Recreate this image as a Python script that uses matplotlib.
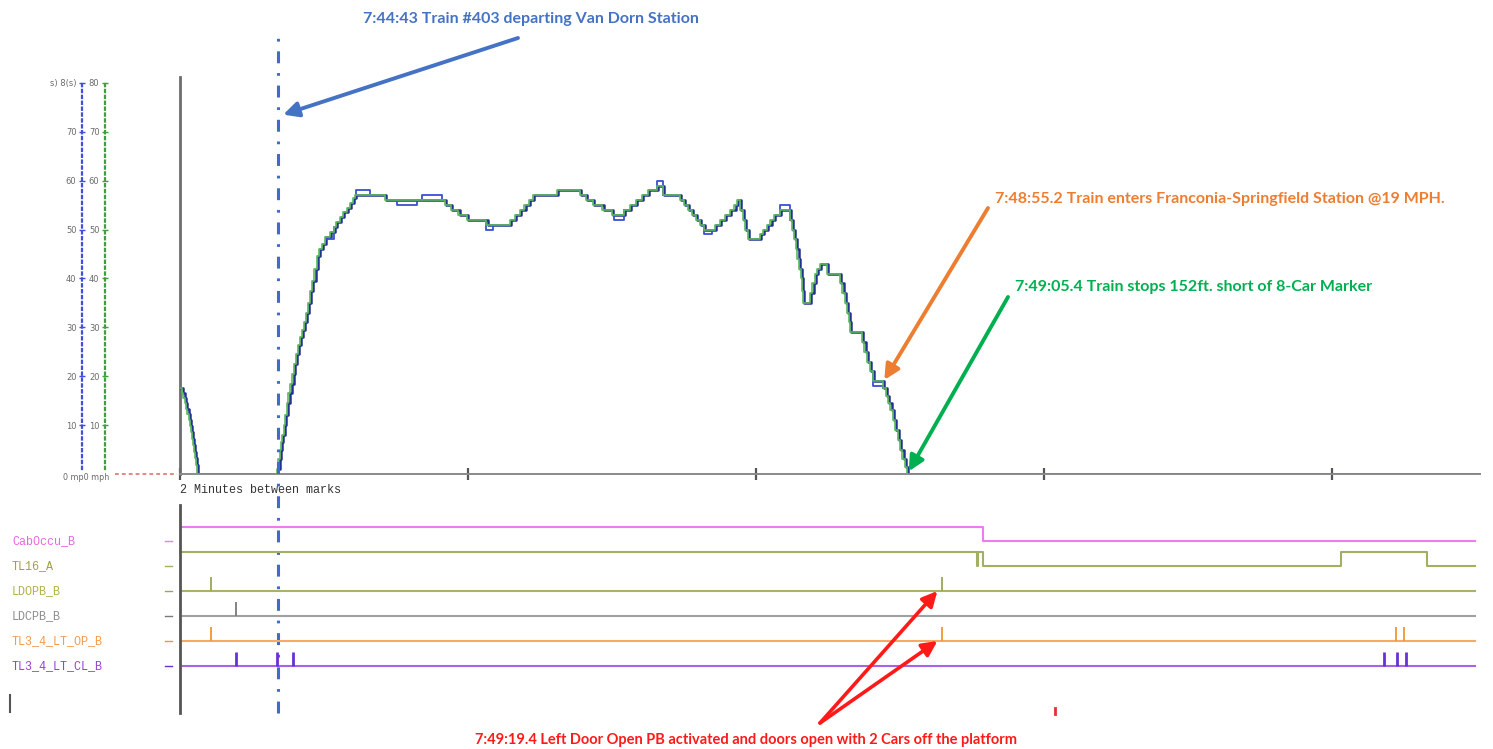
import numpy as np
import matplotlib
matplotlib.use("Agg")
import matplotlib.pyplot as plt
from matplotlib.transforms import blended_transform_factory

W, H = 1493, 749


def clock(s):
    h, m, sec = s.split(":")
    return int(h) * 3600 + int(m) * 60 + float(sec)


T0 = clock("7:44:02")          # left edge of the event-recorder window
END = 541.7                    # seconds shown
T_DEPART = clock("7:44:43") - T0
T_ENTER = clock("7:48:55.2") - T0
T_STOP = clock("7:49:05.4") - T0
T_DOOR = clock("7:49:19.4") - T0

# speed trace (s from window start, mph) - step changes of the green channel
SPD_T = [0, 0.7, 1.4, 2.0, 2.6, 3.1, 3.6, 4.1, 4.6, 5.0, 5.5, 5.9, 6.3, 6.6, 7.0,
         40.5, 41.0, 41.5, 42.0, 42.6, 43.2, 43.8, 44.5, 45.2, 46.0, 46.8, 47.6, 48.4,
         49.2, 50.0, 50.7, 51.5, 52.3, 53.2, 54.2, 55.0, 56.0, 57.0, 58.0, 59.0, 60.4,
         62.5, 64.0, 65.0, 66.5, 68.0, 69.5, 70.8, 72.0, 72.9, 85.4,
         110.4, 113.0, 116.0, 119.5, 127.7, 137.5, 139.5, 141.5, 143.5, 145.5, 147.0,
         157.0, 166.7, 169.0, 172.0, 176.0, 180.0, 185.0, 187.5, 190.0, 192.5, 195.0,
         198.6, 201.3, 208.3, 210.0, 211.7, 213.3, 215.0, 216.7, 218.3, 223.0, 225.0,
         227.0, 229.0, 231.0, 232.2, 233.3, 234.5, 235.5, 236.5, 241.5, 243.0, 244.5,
         246.0, 247.5, 250.0, 254.2, 255.0, 255.8, 256.6, 257.3, 258.0, 258.6, 259.1,
         259.6, 262.5, 263.5, 264.5, 265.5, 266.7, 269.6, 275.0, 276.0, 277.0, 278.0,
         278.6, 279.2, 284.2, 285.2, 286.2, 287.5, 288.8, 292.9, 294.0, 295.0, 296.0,
         297.0, 298.0, 299.0, 300.0, 301.0, 302.0, 302.8, END]
SPD_V = [17.5, 16.5, 15.5, 14.5, 13.3, 12.2, 11.0, 9.8, 8.5, 7.2, 6.0, 4.6, 3.2, 1.8, 0,
         1.0, 3.0, 5.0, 6.5, 8.0, 10.0, 12.0, 14.5, 16.5, 18.5, 20.5, 22.5, 24.5,
         26.3, 28.0, 29.5, 31.0, 33.0, 35.0, 37.5, 39.5, 42.0, 44.5, 46.0, 47.0, 48.5,
         49.5, 50.5, 51.5, 52.5, 53.5, 54.5, 55.5, 56.5, 57.0, 56.0,
         55.0, 54.0, 53.0, 52.0, 51.0, 52.0, 53.0, 54.0, 55.0, 56.0, 57.0,
         58.0, 57.0, 56.0, 55.0, 54.0, 53.0, 54.0, 55.0, 56.0, 57.0, 58.0,
         59.0, 57.0, 56.0, 55.0, 54.0, 53.0, 52.0, 51.0, 50.0, 51.0, 52.0,
         53.0, 54.0, 55.0, 56.0, 54.0, 52.0, 50.0, 48.0, 49.0, 50.0, 51.0,
         52.0, 53.0, 54.0, 52.0, 50.0, 48.0, 46.0, 44.0, 42.0, 40.0, 37.5,
         35.0, 37.0, 39.0, 41.0, 42.0, 43.0, 41.0, 39.0, 37.0, 35.0, 33.0,
         31.0, 29.0, 27.0, 25.0, 23.0, 21.0, 19.0, 17.5, 16.0, 14.5, 13.0,
         11.0, 9.0, 7.0, 5.0, 3.0, 1.5, 0.0, 0.0]
BLUE_LAG = 0.5                 # blue channel samples a touch later
# (start, end, mph) where the blue channel reads differently
BLUE_DEV = [(61.0, 64.0, 48.0), (73.5, 79.2, 58.0), (90.4, 98.8, 55.0),
            (100.7, 109.0, 57.0), (127.7, 130.5, 50.0), (181.0, 185.0, 52.0),
            (198.6, 201.3, 60.0), (218.3, 221.5, 49.0), (250.0, 254.2, 55.0),
            (288.8, 292.9, 18.0)]

# discrete channels
CHANNELS = ["CabOccu_B", "TL16_A", "LDOPB_B", "LDCPB_B", "TL3_4_LT_OP_B", "TL3_4_LT_CL_B"]
LINE_COL = ["#f07af0", "#a3b063", "#a9b266", "#a0a0a0", "#f5aa66", "#a862e6"]
TEXT_COL = ["#e866e0", "#a0a04a", "#b3b04c", "#8e8e8e", "#f29a4e", "#9a3fd8"]
PULSE_COL = ["#f07af0", "#a3b063", "#9aa55a", "#7a7a7a", "#f0962e", "#6a2fd6"]
CAB_T = [0, 334.8, END]
CAB_S = [1, 0, 0]
TL16_T = [0, 332.0, 332.7, 334.8, 483.6, 519.6, END]
TL16_S = [1, 0, 1, 0, 1, 0, 0]
LDOPB_P = [13.0, T_DOOR]
LDCPB_P = [23.2]
OP_P = [13.0, T_DOOR, 506.5, 509.9]
CL_P = [23.2, 40.6, 47.0, 501.6, 507.2, 510.7]
HIGH = 0.56

BLUE_A = "#4472c4"
ORANGE_A = "#ed7d31"
GREEN_A = "#00b050"
RED_A = "#ff1a1a"
ANN = dict(family="Lato", weight="bold")


def px(x, y):
    return (x, H - y)


def step_at(t):
    i = np.searchsorted(SPD_T, t, side="right") - 1
    return SPD_V[i]


fig = plt.figure(figsize=(W / 100, H / 100), dpi=100)
fig.patch.set_facecolor("white")

# ---- speed panel ----
ax = fig.add_axes([180 / W, 275 / H, 1300 / W, 397 / H])
ax.set_xlim(0, END)
ax.set_ylim(0, 81.2)
ax.patch.set_alpha(0)
for s in ("top", "right"):
    ax.spines[s].set_visible(False)
ax.spines["left"].set_color("#6d6d6d")
ax.spines["left"].set_linewidth(2)
ax.spines["bottom"].set_color("#8a8a8a")
ax.spines["bottom"].set_linewidth(1.4)
ax.set_yticks([])
ax.set_xticks(np.arange(0, END, 120))
ax.set_xticklabels([])
ax.tick_params(axis="x", direction="inout", length=9, width=1.6, color="#555")

bt = np.array(SPD_T) + BLUE_LAG
ax.plot(bt, SPD_V, drawstyle="steps-post", color="#22328f", lw=1.8, zorder=3)
for a, b, v in BLUE_DEV:
    ax.plot([a, a, b, b], [step_at(a - 0.01), v, v, step_at(b)], color="#3a4fd0", lw=1.3, zorder=3)
ax.plot(SPD_T, SPD_V, drawstyle="steps-post", color="#5cb85c", lw=1.2, zorder=4)

ax.text(0, -0.04, "2 Minutes between marks", transform=ax.transAxes, ha="left", va="center",
        family="Liberation Mono", size=8.5, color="#333")

bx = blended_transform_factory(ax.transAxes, ax.transData)
ax.plot([-65 / 1300, -0.002], [0, 0], transform=bx, clip_on=False, color="#e06666",
        lw=1.1, ls=(0, (2.5, 2)))

# departure marker across both panels
ax.axvline(T_DEPART, ymin=(474 - 713) / 397, ymax=(474 - 35) / 397, clip_on=False,
           color="#3d6cc9", lw=2.2, ls=(0, (3.9, 3.2, 0.9, 3.2)), zorder=5)

# dotted scales on the left
for xpx, col, top in ((82, "#4050d8", "s) 8(s)"), (105, "#3f9f3f", "80")):
    sa = fig.add_axes([xpx / W, 275 / H, 1e-4, 397 / H])
    sa.set_ylim(0, 81.2)
    sa.set_xticks([])
    sa.patch.set_alpha(0)
    for s in ("top", "right", "bottom"):
        sa.spines[s].set_visible(False)
    sa.spines["left"].set_color(col)
    sa.spines["left"].set_linestyle(":")
    sa.spines["left"].set_linewidth(1.6)
    sa.spines["left"].set_bounds(1.0, 80)
    sa.set_yticks(range(10, 90, 10))
    sa.set_yticklabels([str(v) for v in range(10, 80, 10)] + [top])
    sa.tick_params(axis="y", direction="inout", length=5, width=1, color=col,
                   labelcolor="#6a6a6a", labelsize=6, pad=1.5)
fig.text(63 / W, (H - 478) / H, "0 mp0 mph", ha="left", va="center", size=5.8, color="#6a6a6a")

# ---- discrete channels ----
ax2 = fig.add_axes([180 / W, 36 / H, 1300 / W, 208 / H])
ax2.set_xlim(0, END)
ax2.set_ylim(-6.88, 1.44)
ax2.patch.set_alpha(0)
for s in ("top", "right", "bottom"):
    ax2.spines[s].set_visible(False)
ax2.spines["left"].set_color("#555")
ax2.spines["left"].set_linewidth(2)
ax2.set_xticks([])
ax2.set_yticks([])

b2 = blended_transform_factory(ax2.transAxes, ax2.transData)
LOW_END = END - 2.1
levels = {0: (CAB_T, CAB_S), 1: (TL16_T, TL16_S)}
pulses = {2: LDOPB_P, 3: LDCPB_P, 4: OP_P, 5: CL_P}
for i, name in enumerate(CHANNELS):
    base = -i
    if i in levels:
        t, s = levels[i]
        t = list(t[:-1]) + [LOW_END]
        ax2.plot(t, base + HIGH * np.array(s), drawstyle="steps-post", color=LINE_COL[i], lw=1.5)
    else:
        ax2.plot([0, LOW_END], [base, base], color=LINE_COL[i], lw=1.5)
        ax2.vlines(pulses[i], base, base + HIGH, color=PULSE_COL[i], lw=2.0 if i == 5 else 1.3)
    ax2.plot([-15 / 1300, -8 / 1300], [base, base], transform=b2, clip_on=False,
             color=PULSE_COL[i], lw=1.0)
    ax2.text(-168 / 1300, base, name, transform=b2, ha="left", va="center",
             family="Liberation Mono", size=8.5, color=TEXT_COL[i])

ax2.plot([364.6, 364.6], [-6.68, -6.92], color="#e03030", lw=2, clip_on=False)
ax2.plot([-170 / 1300, -170 / 1300], [-6.16, -6.84], transform=b2, color="#555", lw=1.5, clip_on=False)

# ---- callouts ----
arrow = "-|>,head_length=0.9,head_width=0.45"
ax.annotate("", xy=(T_DEPART + 2, 73.5), xytext=px(518, 38), textcoords="figure pixels",
            arrowprops=dict(arrowstyle=arrow, color=BLUE_A, lw=2.8, shrinkA=0, shrinkB=0),
            annotation_clip=False)
fig.text(531 / W, (H - 19) / H, "7:44:43 Train #403 departing Van Dorn Station",
         ha="center", va="center", color=BLUE_A, size=11.5, **ANN)

ax.annotate("", xy=(T_ENTER, 19), xytext=px(988, 208), textcoords="figure pixels",
            arrowprops=dict(arrowstyle=arrow, color=ORANGE_A, lw=2.8, shrinkA=0, shrinkB=1),
            annotation_clip=False)
fig.text(995 / W, (H - 199) / H, "7:48:55.2 Train enters Franconia-Springfield Station @19 MPH.",
         ha="left", va="center", color=ORANGE_A, size=11.5, **ANN)

ax.annotate("", xy=(T_STOP, 0.3), xytext=px(1008, 297), textcoords="figure pixels",
            arrowprops=dict(arrowstyle=arrow, color=GREEN_A, lw=2.8, shrinkA=0, shrinkB=1),
            annotation_clip=False)
fig.text(1015 / W, (H - 287) / H, "7:49:05.4 Train stops 152ft. short of 8-Car Marker",
         ha="left", va="center", color=GREEN_A, size=11.5, **ANN)

for ch in (2, 4):
    ax2.annotate("", xy=(T_DOOR - 1.8, -ch), xytext=px(820, 723), textcoords="figure pixels",
                 arrowprops=dict(arrowstyle=arrow, color=RED_A, lw=2.6, shrinkA=0, shrinkB=0),
                 annotation_clip=False)
fig.text(746 / W, (H - 740) / H,
         "7:49:19.4 Left Door Open PB activated and doors open with 2 Cars off the platform",
         ha="center", va="center", color=RED_A, size=10.5, **ANN)

fig.savefig("out.png", dpi=100)
